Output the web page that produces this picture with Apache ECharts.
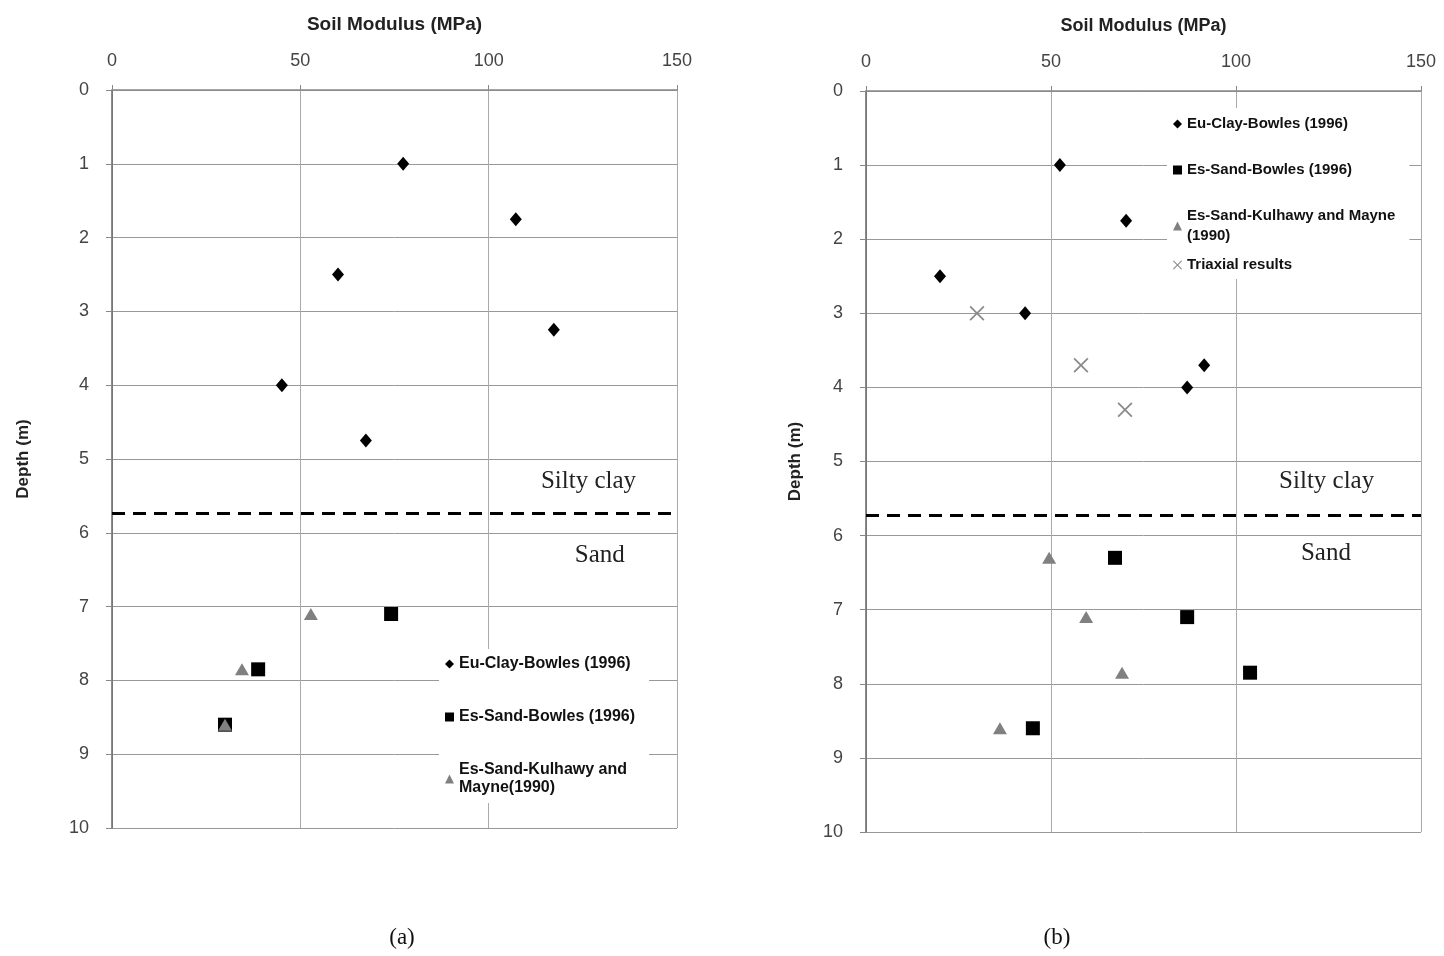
<!DOCTYPE html>
<html>
<head>
<meta charset="utf-8">
<script src="https://cdn.jsdelivr.net/npm/echarts@6/dist/echarts.min.js"></script>
<style>
html,body{margin:0;padding:0;background:#fff;}
#chart{width:1444px;height:956px;}
</style>
</head>
<body>
<div id="chart"></div>
<script>
// ---- Data (a) ----
const depthClayA = [1, 1.75, 2.5, 3.25, 4, 4.75];
const euClayA = [77.3, 107.2, 60, 117.3, 45.1, 67.4];
const depthSandA = [7.1, 7.85, 8.6];
const esSandBowlesA = [74.1, 38.8, 30];
const esSandKulhawyA = [52.8, 34.5, 30];

// ---- Data (b) ----
const depthClayB = [1, 1.75, 2.5, 3, 3.7, 4];
const euClayB = [52.4, 70.3, 20, 43, 91.4, 86.8];
const depthSandB = [6.3, 7.1, 7.85, 8.6];
const esSandBowlesB = [67.3, 86.8, 103.8, 45.1];
const esSandKulhawyB = [49.5, 59.5, 69.2, 36.2];
const depthTriaxialB = [3, 3.7, 4.3];
const triaxialB = [30, 58.1, 70];

// ---- Layer boundary & axis ticks ----
const boundaryDepth = 5.73;
const xTicks = [0, 50, 100, 150];
const yTicks = [0, 1, 2, 3, 4, 5, 6, 7, 8, 9, 10];

const names = ['Eu-Clay-Bowles (1996)', 'Es-Sand-Bowles (1996)', 'Es-Sand-Kulhawy and Mayne (1990)', 'Triaxial results'];

const pairs = (xs, ys) => xs.map((x, i) => [x, ys[i]]);
const crossPath = 'path://M0,1L1,0L6,5L11,0L12,1L7,6L12,11L11,12L6,7L1,12L0,11L5,6Z';

function xAxisCfg(gi, nameSize) {
  return {
    gridIndex: gi, type: 'value', position: 'top',
    min: xTicks[0], max: xTicks[xTicks.length - 1], interval: 50,
    name: 'Soil Modulus (MPa)', nameLocation: 'middle', nameGap: 56,
    nameTextStyle: { fontFamily: 'Liberation Sans, Arial', fontWeight: 'bold', fontSize: nameSize, color: '#222' },
    axisLine: { show: true, onZero: false, lineStyle: { color: '#888', width: 1.5 } },
    axisTick: { show: true, inside: false, length: 5, lineStyle: { color: '#888' } },
    axisLabel: { margin: 20, fontFamily: 'Liberation Sans, Arial', fontSize: 18, color: '#444' },
    splitLine: { show: true, lineStyle: { color: '#aaa', width: 1 } }
  };
}
function yAxisCfg(gi, nameGap) {
  return {
    gridIndex: gi, type: 'value', inverse: true,
    min: yTicks[0], max: yTicks[yTicks.length - 1], interval: 1,
    name: 'Depth (m)', nameLocation: 'middle', nameGap: nameGap, nameRotate: 90,
    nameTextStyle: { fontFamily: 'Liberation Sans, Arial', fontWeight: 'bold', fontSize: 17, color: '#222' },
    axisLine: { show: true, onZero: false, lineStyle: { color: '#666', width: 1.5 } },
    axisTick: { show: true, length: 6, lineStyle: { color: '#888' } },
    axisLabel: { margin: 23, fontFamily: 'Liberation Sans, Arial', fontSize: 18, color: '#444' },
    splitLine: { show: true, lineStyle: { color: '#999', width: 1 } }
  };
}

const boundaryLine = {
  silent: true, symbol: 'none',
  label: { show: false },
  lineStyle: { color: '#000', width: 3, type: [13, 8], opacity: 1 },
  data: [{ yAxis: boundaryDepth }]
};

const diamond = { symbol: 'diamond', symbolSize: [12, 14], itemStyle: { color: '#000', opacity: 1 } };
const square = { symbol: 'rect', symbolSize: 14, itemStyle: { color: '#000', opacity: 1 } };
const tri = { symbol: 'triangle', symbolSize: [14, 12], itemStyle: { color: '#808080', opacity: 1 } };
const cross = { symbol: crossPath, symbolSize: 15, itemStyle: { color: '#8a8a8a', opacity: 1 } };

const legendText = { fontFamily: 'Liberation Sans, Arial', fontWeight: 'bold', color: '#111' };
const legendBase = {
  orient: 'vertical', padding: [6, 14, 6, 6], backgroundColor: '#fff',
  itemWidth: 9, itemHeight: 9, selectedMode: false
};

const option = {
  animation: false,
  backgroundColor: '#fff',
  grid: [
    { left: 112, top: 90, width: 565, height: 738 },
    { left: 866, top: 91, width: 555, height: 741 }
  ],
  xAxis: [xAxisCfg(0, 19), xAxisCfg(1, 18)],
  yAxis: [yAxisCfg(0, 80), yAxisCfg(1, 62)],
  legend: [
    Object.assign({}, legendBase, {
      left: 439, top: 649, itemGap: 35,
      textStyle: Object.assign({ fontSize: 16, lineHeight: 18 }, legendText),
      data: [names[0], names[1], names[2]],
      formatter: n => n === names[2] ? 'Es-Sand-Kulhawy and\nMayne(1990)' : n
    }),
    Object.assign({}, legendBase, {
      left: 1167, top: 108, itemGap: 26,
      textStyle: Object.assign({ fontSize: 15, lineHeight: 20 }, legendText),
      data: [names[0], names[1], names[2]],
      formatter: n => n === names[2] ? 'Es-Sand-Kulhawy and Mayne\n(1990)' : n
    }),
    Object.assign({}, legendBase, {
      left: 1167, top: 251, padding: [4, 14, 4, 6],
      textStyle: Object.assign({ fontSize: 15, lineHeight: 20 }, legendText),
      data: [names[3]]
    })
  ],
  series: [
    Object.assign({ type: 'scatter', name: names[0], xAxisIndex: 0, yAxisIndex: 0, data: pairs(euClayA, depthClayA), markLine: boundaryLine, z: 3 }, diamond),
    Object.assign({ type: 'scatter', name: names[1], xAxisIndex: 0, yAxisIndex: 0, data: pairs(esSandBowlesA, depthSandA), z: 3 }, square),
    Object.assign({ type: 'scatter', name: names[2], xAxisIndex: 0, yAxisIndex: 0, data: pairs(esSandKulhawyA, depthSandA), z: 4 }, tri),
    Object.assign({ type: 'scatter', name: names[0], xAxisIndex: 1, yAxisIndex: 1, data: pairs(euClayB, depthClayB), markLine: boundaryLine, z: 3 }, diamond),
    Object.assign({ type: 'scatter', name: names[1], xAxisIndex: 1, yAxisIndex: 1, data: pairs(esSandBowlesB, depthSandB), z: 3 }, square),
    Object.assign({ type: 'scatter', name: names[2], xAxisIndex: 1, yAxisIndex: 1, data: pairs(esSandKulhawyB, depthSandB), z: 4 }, tri),
    Object.assign({ type: 'scatter', name: names[3], xAxisIndex: 1, yAxisIndex: 1, data: pairs(triaxialB, depthTriaxialB), z: 4 }, cross)
  ]
};

const chart = echarts.init(document.getElementById('chart'), null, { renderer: 'canvas' });
chart.setOption(option);

// Annotation texts placed relative to the axes
const serif = 'Liberation Serif, Times New Roman, serif';
function textAt(gi, xv, yv, text, size) {
  const p = chart.convertToPixel({ gridIndex: gi }, [xv, yv]);
  return { type: 'text', x: p[0], y: p[1], z: 10,
    style: { text: text, fontFamily: serif, fontSize: size, fill: '#222', align: 'center', verticalAlign: 'middle' } };
}
const g = [
  textAt(0, 126.5, 5.3, 'Silty clay', 25),
  textAt(0, 129.5, 6.3, 'Sand', 25),
  textAt(1, 124.5, 5.27, 'Silty clay', 25),
  textAt(1, 124.3, 6.24, 'Sand', 25),
  { type: 'text', x: 402, y: 938, style: { text: '(a)', fontFamily: serif, fontSize: 23, fill: '#111', align: 'center', verticalAlign: 'middle' } },
  { type: 'text', x: 1057, y: 938, style: { text: '(b)', fontFamily: serif, fontSize: 23, fill: '#111', align: 'center', verticalAlign: 'middle' } }
];
chart.setOption({ graphic: g });
</script>
</body>
</html>
